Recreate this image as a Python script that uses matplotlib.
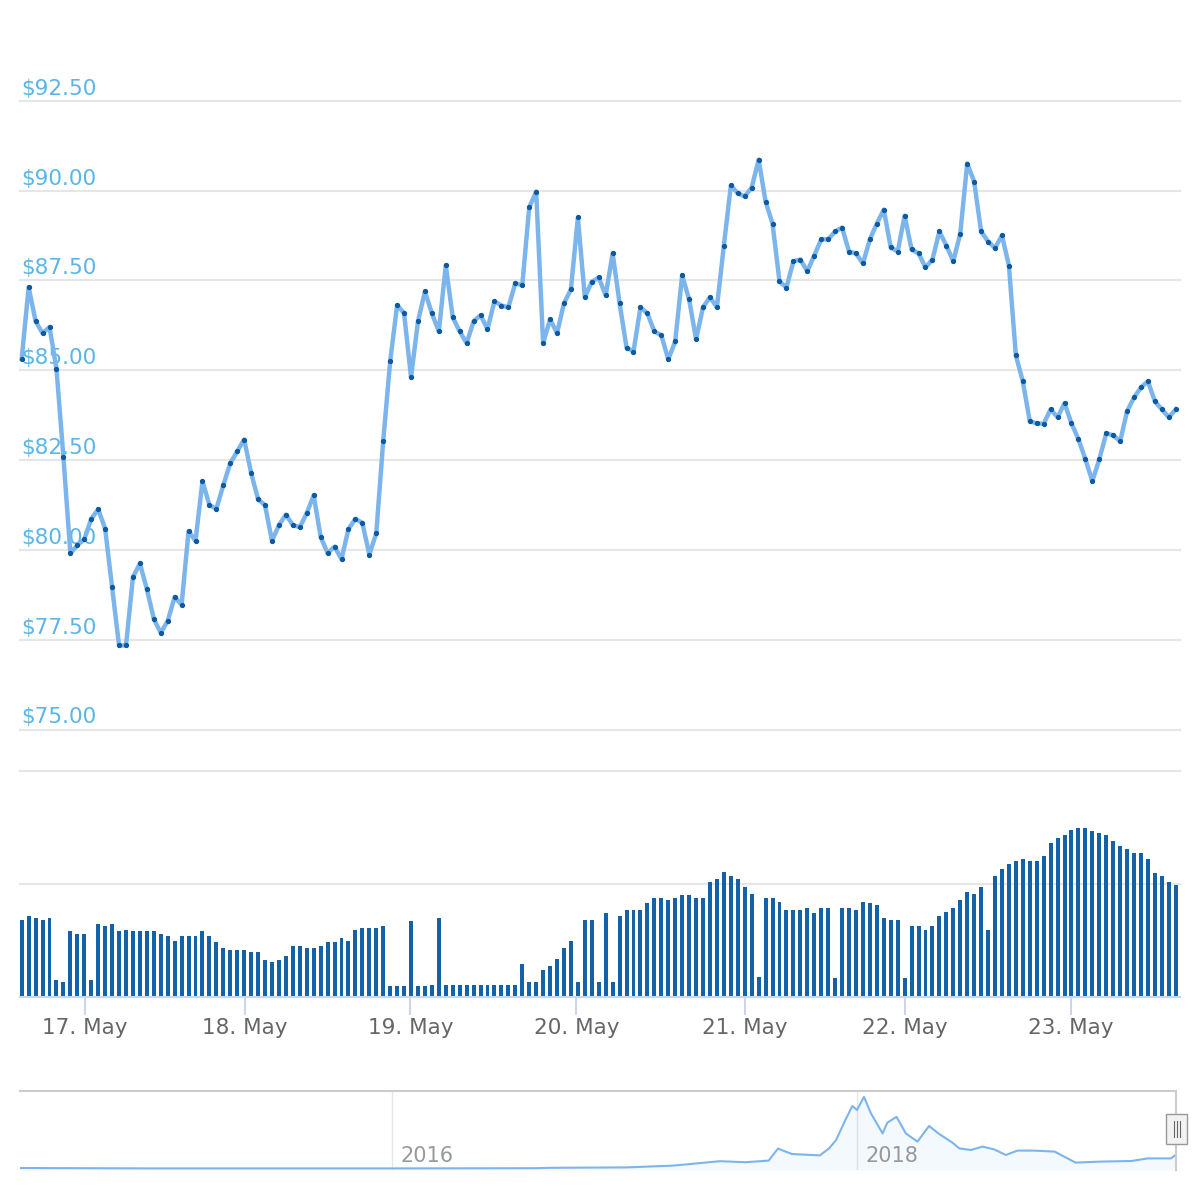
import matplotlib.pyplot as plt
from matplotlib.patches import Rectangle
from matplotlib.lines import Line2D

# hourly price (USD), 17-23 May
price = [85.32, 87.31, 86.36, 86.03, 86.20, 85.04, 82.58, 79.90, 80.13, 80.29,
         80.86, 81.13, 80.59, 78.97, 77.34, 77.34, 79.24, 79.62, 78.91, 78.08,
         77.69, 78.02, 78.69, 78.47, 80.52, 80.25, 81.91, 81.25, 81.14, 81.80,
         82.41, 82.74, 83.07, 82.14, 81.41, 81.24, 80.25, 80.69, 80.98, 80.69,
         80.63, 81.02, 81.52, 80.36, 79.91, 80.09, 79.74, 80.58, 80.86, 80.75,
         79.87, 80.46, 83.03, 85.25, 86.81, 86.59, 84.80, 86.36, 87.19, 86.58,
         86.08, 87.92, 86.47, 86.08, 85.75, 86.36, 86.53, 86.14, 86.92, 86.80,
         86.75, 87.42, 87.36, 89.53, 89.97, 85.75, 86.42, 86.03, 86.86, 87.25,
         89.25, 87.03, 87.46, 87.58, 87.08, 88.25, 86.86, 85.63, 85.52, 86.75,
         86.58, 86.08, 85.97, 85.30, 85.80, 87.64, 86.97, 85.86, 86.75, 87.03,
         86.75, 88.47, 90.14, 89.92, 89.84, 90.08, 90.86, 89.69, 89.08, 87.47,
         87.30, 88.03, 88.08, 87.75, 88.19, 88.64, 88.64, 88.86, 88.97, 88.30,
         88.25, 87.97, 88.64, 89.08, 89.47, 88.42, 88.30, 89.30, 88.36, 88.25,
         87.86, 88.08, 88.86, 88.47, 88.03, 88.80, 90.75, 90.25, 88.86, 88.58,
         88.40, 88.75, 87.91, 85.41, 84.69, 83.58, 83.52, 83.51, 83.91, 83.69,
         84.08, 83.52, 83.08, 82.52, 81.91, 82.52, 83.24, 83.19, 83.02, 83.86,
         84.24, 84.52, 84.69, 84.13, 83.91, 83.69, 83.91]

# hourly volume (relative units)
volume = [68, 72, 70, 68, 70, 15, 13, 58, 56, 56,
          15, 65, 63, 65, 58, 59, 58, 58, 58, 58,
          56, 54, 50, 54, 54, 54, 58, 54, 49, 43,
          42, 42, 42, 40, 40, 33, 31, 33, 36, 45,
          45, 43, 43, 45, 49, 49, 52, 50, 59, 61,
          61, 61, 63, 10, 10, 10, 67, 10, 10, 11,
          70, 11, 11, 11, 11, 11, 11, 11, 11, 11,
          11, 11, 29, 13, 13, 24, 27, 34, 43, 50,
          13, 68, 68, 13, 74, 13, 72, 77, 77, 77,
          83, 88, 88, 86, 88, 90, 90, 88, 88, 102,
          104, 111, 107, 104, 97, 91, 18, 88, 88, 84,
          77, 77, 77, 79, 74, 79, 79, 17, 79, 79,
          77, 84, 83, 81, 70, 68, 68, 17, 63, 63,
          59, 63, 72, 75, 79, 86, 93, 91, 97, 59,
          107, 113, 118, 120, 122, 120, 120, 125, 136, 141,
          143, 148, 150, 150, 147, 145, 143, 138, 134, 131,
          127, 127, 122, 110, 107, 102, 99]

day_labels = ['17. May', '18. May', '19. May', '20. May', '21. May', '22. May', '23. May']
day_ticks = [9.1, 32.1, 55.9, 79.8, 104.0, 127.0, 150.9]
price_ticks = [75.0, 77.5, 80.0, 82.5, 85.0, 87.5, 90.0, 92.5]
volume_ticks = [100, 200]

# navigator: full history
nav_years = [2014.40, 2014.96, 2015.60, 2016.00, 2016.62, 2016.68, 2017.01, 2017.21,
             2017.41, 2017.52, 2017.62, 2017.66, 2017.72, 2017.84, 2017.88, 2017.91,
             2017.95, 2017.98, 2018.00, 2018.03, 2018.06, 2018.11, 2018.13, 2018.17,
             2018.21, 2018.26, 2018.31, 2018.35, 2018.41, 2018.44, 2018.49, 2018.54,
             2018.59, 2018.64, 2018.69, 2018.76, 2018.85, 2018.94, 2019.05, 2019.18,
             2019.25, 2019.35, 2019.37]
nav_price = [5, 3, 3, 3, 4, 6, 8, 17,
             39, 34, 42, 102, 75, 68, 103, 145,
             245, 315, 295, 361, 278, 178, 231, 261,
             178, 137, 215, 178, 132, 103, 95, 112,
             98, 70, 92, 92, 87, 32, 37, 40,
             53, 53, 70]
nav_year_ticks = [2016, 2018]

W = H = 1200


def box(x0, y0, x1, y1):
    # pixel box measured from the top-left corner -> figure fraction rect
    return [x0 / W, 1 - y1 / H, (x1 - x0) / W, (y1 - y0) / H]


plt.rcParams['font.family'] = ['DejaVu Sans']
fig = plt.figure(figsize=(12, 12), dpi=100)
x = list(range(len(price)))
xlim = (-0.245, 166.61)

# price pane
ax = fig.add_axes(box(20, 100.7, 1180, 729.5))
ax.set_xlim(*xlim)
ax.set_ylim(75, 92.5)
ax.axis('off')
for t in price_ticks:
    ax.axhline(t, color='#e6e6e6', lw=1.5, zorder=0, clip_on=False)
    ax.annotate('${:.2f}'.format(t), xy=(0.0015, t), xycoords=('axes fraction', 'data'),
                xytext=(0, 6), textcoords='offset pixels', ha='left', va='baseline',
                fontsize=15.5, color='#5bb5e8', zorder=1)
ax.plot(x, price, color='#7cb5ec', lw=3.2, zorder=3, solid_joinstyle='round', clip_on=False)
ax.plot(x, price, 'o', ms=2.8, color='#0d5aa0', zorder=4, clip_on=False)

# volume pane
vax = fig.add_axes(box(20, 771, 1180, 997))
vax.set_xlim(*xlim)
vax.set_ylim(0, 200)
for t in volume_ticks:
    vax.axhline(t, color='#e6e6e6', lw=1.5, zorder=0, clip_on=False)
vax.bar(x, volume, width=0.57, color='#1261a9', zorder=2)
for s in ['top', 'left', 'right']:
    vax.spines[s].set_visible(False)
vax.spines['bottom'].set_color('#ccd6eb')
vax.spines['bottom'].set_linewidth(1.5)
vax.set_yticks([])
vax.set_xticks(day_ticks)
vax.set_xticklabels(day_labels)
vax.tick_params(axis='x', length=13, width=1.5, color='#ccd6eb', labelcolor='#666666',
                labelsize=15.5, pad=2)
vax.patch.set_alpha(0)

# navigator
nax = fig.add_axes(box(20, 1091, 1176, 1170))
nax.set_xlim(2014.40, 2019.372)
nax.set_ylim(-5, 390)
nax.fill_between(nav_years, nav_price, -5, color='#7cb5ec', alpha=0.08, lw=0)
nax.plot(nav_years, nav_price, color='#7cb5ec', lw=1.5)
for yr in nav_year_ticks:
    nax.axvline(yr, color='#e6e6e6', lw=1, zorder=0)
    nax.annotate(str(yr), xy=(yr, -5), xytext=(8, 8), textcoords='offset pixels',
                 ha='left', va='baseline', fontsize=15, color='#999999')
for s in ['left', 'bottom']:
    nax.spines[s].set_visible(False)
for s in ['top', 'right']:
    nax.spines[s].set_color('#cccccc')
    nax.spines[s].set_linewidth(1.5)
nax.set_xticks([])
nax.set_yticks([])

# navigator handle
fig.add_artist(Rectangle((1166 / W, 1 - 1144 / H), 21 / W, 30 / H, transform=fig.transFigure,
                         facecolor='#f2f2f2', edgecolor='#999999', lw=1))
for hx in [1173.5, 1176.5, 1179.5]:
    fig.add_artist(Line2D([hx / W, hx / W], [1 - 1121 / H, 1 - 1137 / H],
                          transform=fig.transFigure, color='#666666', lw=0.8))

fig.savefig('out.png', dpi=100)
